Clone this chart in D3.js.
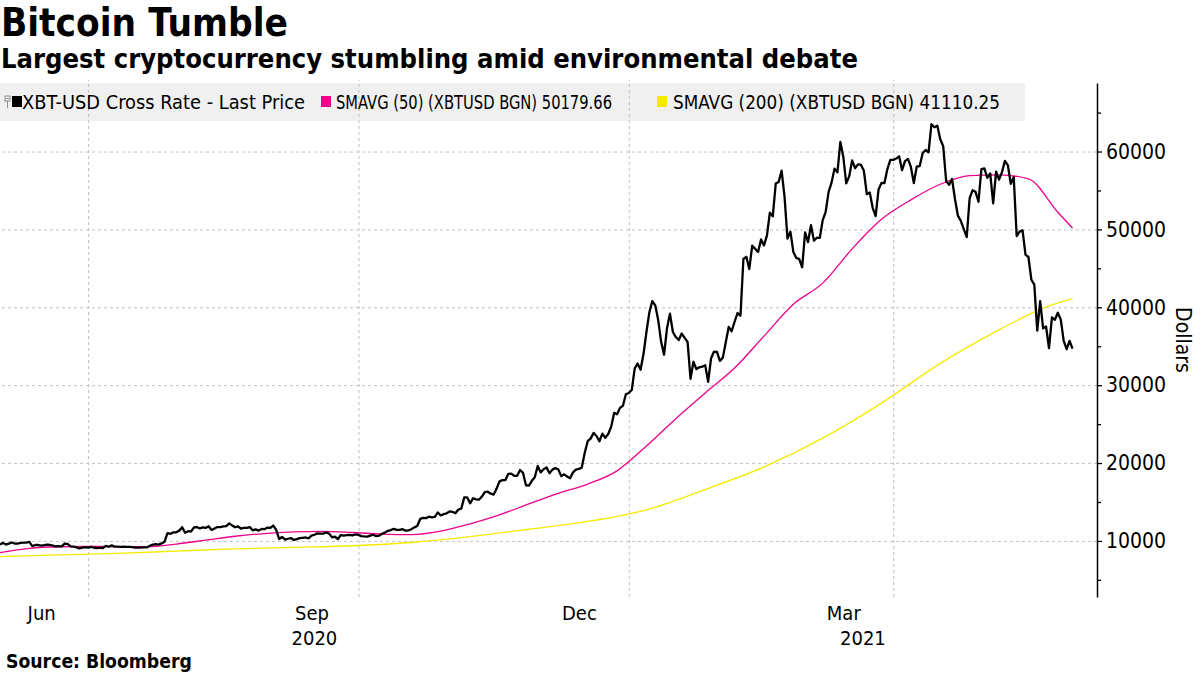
<!DOCTYPE html>
<html><head><meta charset="utf-8">
<script src="https://cdn.jsdelivr.net/npm/d3@7"></script>
<style>
html,body{margin:0;padding:0;background:#fff;}
svg{display:block;}
text{font-family:"DejaVu Sans Condensed","DejaVu Sans",sans-serif;font-stretch:condensed;fill:#000;}
</style></head><body>
<svg id="chart" width="1200" height="675"></svg>
<script>
// ---------------- DATA ----------------
const titleText = "Bitcoin Tumble";
const subtitleText = "Largest cryptocurrency stumbling amid environmental debate";
const sourceText = "Source: Bloomberg";
const yAxisTitle = "Dollars";
const seriesNames = ["XBT-USD Cross Rate - Last Price", "SMAVG (50) (XBTUSD BGN) 50179.66", "SMAVG (200) (XBTUSD BGN) 41110.25"];
const seriesColors = ["#000000", "#ec008c", "#f4ea00"];

const startDate = "2020-06-01";   // first daily observation
const endDate = "2021-06-01";     // last daily observation

// Daily last price (USD), Jun 1 2020 .. Jun 1 2021
const price = [
  // Jun 2020
  9550, 9750, 9529, 9656, 9800, 9665, 9653, 9758, 9771, 9795, 9870, 9321, 9480, 9475, 9386, 9454, 9538, 9480, 9411, 9288, 9332, 9303, 9648, 9629, 9313, 9264, 9162, 9046, 9143, 9190,
  // Jul 2020
  9137, 9228, 9123, 9087, 9133, 9073, 9375, 9252, 9428, 9277, 9278, 9240, 9276, 9243, 9243, 9192, 9132, 9151, 9159, 9185, 9164, 9374, 9525, 9581, 9536, 9677, 9905, 10990, 10912, 11100, 11111,
  // Aug 2020
  11323, 11759, 11053, 11246, 11205, 11747, 11779, 11601, 11754, 11675, 11878, 11410, 11584, 11784, 11768, 11865, 11892, 12254, 11991, 11758, 11878, 11592, 11681, 11664, 11774, 11366, 11488, 11323, 11542, 11507, 11711,
  // Sep 2020
  11680, 11970, 11414, 10245, 10511, 10169, 10280, 10370, 10131, 10242, 10364, 10400, 10443, 10323, 10680, 10796, 10974, 10948, 10944, 11094, 10938, 10462, 10538, 10246, 10760, 10692, 10750, 10776, 10709, 10844,
  // Oct 2020
  10784, 10619, 10575, 10550, 10669, 10793, 10604, 10668, 10915, 11064, 11296, 11384, 11555, 11426, 11429, 11505, 11319, 11360, 11495, 11742, 11916, 12823, 12965, 12931, 13108, 13031, 13075, 13654, 13271, 13437, 13546,
  // Nov 2020
  13781, 13737, 13550, 14028, 14156, 15590, 15580, 14828, 15479, 15332, 15291, 15701, 16277, 16317, 16068, 15955, 16716, 17645, 17804, 17817, 18621, 18642, 18370, 18364, 19107, 18732, 17150, 17108, 17717, 18177,
  // Dec 2020
  19625, 18802, 19201, 19445, 18699, 19154, 19345, 19191, 18321, 18553, 18264, 18058, 18803, 19142, 19246, 19417, 21310, 22805, 23137, 23869, 23477, 22803, 23783, 23241, 23736, 24664, 26437, 26272, 27084, 27362, 28841,
  // Jan 2021
  29002, 29374, 32127, 32782, 31971, 33992, 36824, 39371, 40797, 40254, 38357, 35566, 33922, 37316, 39187, 36825, 36178, 35792, 36630, 36069, 35548, 30825, 33005, 32067, 32289, 32366, 32569, 30432, 33467, 34316, 34269,
  // Feb 2021
  33115, 33537, 35510, 37472, 36927, 38144, 39267, 38904, 46196, 46482, 44919, 47910, 47504, 47106, 48717, 47945, 49200, 52149, 51679, 55888, 56099, 57540, 54207, 48825, 49705, 47093, 46339, 46188,
  // Mar 2021
  45137, 49631, 48378, 50538, 48561, 48927, 48912, 51206, 52246, 54824, 56008, 57805, 57332, 61243, 59302, 55907, 56804, 58870, 57858, 58346, 58313, 57523, 54529, 54738, 52774, 51704, 55137, 55974, 55947, 57750, 58918,
  // Apr 2021
  58918, 59095, 59384, 57604, 58759, 59058, 58020, 55950, 58077, 58142, 59770, 60205, 59894, 63504, 63110, 63314, 61572, 60683, 56216, 55724, 56474, 53906, 51763, 51094, 50050, 49004, 54022, 55034, 54825, 53556,
  // May 2021
  57750, 57828, 56632, 57200, 53333, 57424, 56397, 57357, 58804, 58233, 55860, 56705, 49150, 49716, 49880, 46760, 46457, 43537, 42910, 37002, 40782, 37304, 37536, 34770, 38706, 38402, 39294, 38437, 35697, 34616, 35678,
  // Jun 1 2021
  34700
];

// 50-day simple moving average, read at day offsets from startDate
const sma50Days = [0, 10, 20, 30, 40, 50, 60, 70, 80, 90, 100, 110, 120, 130, 140, 150, 160, 170, 180, 190, 200, 210, 220, 230, 240, 250, 260, 270, 280, 290, 300, 310, 320, 330, 340, 350, 360, 365];
const sma50 = [8500, 9050, 9250, 9290, 9280, 9270, 9600, 10100, 10600, 10950, 11150, 11220, 11080, 10880, 10800, 11250, 12200, 13350, 14750, 16100, 17300, 19000, 22200, 25700, 29000, 32200, 36300, 40400, 43100, 47500, 51300, 53800, 55800, 56900, 57000, 56500, 52200, 50180];

// 200-day simple moving average
const sma200Days = [0, 20, 40, 60, 80, 100, 120, 140, 160, 180, 200, 220, 240, 260, 280, 300, 320, 340, 355, 365];
const sma200 = [7990, 8200, 8400, 8700, 8980, 9170, 9380, 9800, 10550, 11500, 12500, 14000, 16600, 19500, 23200, 27700, 32800, 37100, 39900, 41110];

const yTicks = [10000, 20000, 30000, 40000, 50000, 60000];
const yMinorTicks = [5000, 15000, 25000, 35000, 45000, 55000, 65000];
const yDomain = [2800, 68800];
const gridDates = ["2020-07-01", "2020-10-01", "2021-01-01", "2021-04-01"];
const monthLabels = ["Jun", "Sep", "Dec", "Mar"];
const monthLabelDates = ["2020-06-15", "2020-09-15", "2020-12-15", "2021-03-15"];
const yearLabels = ["2020", "2021"];

// ---------------- CHART ----------------
const svg = d3.select("#chart");
const parse = d3.timeParse("%Y-%m-%d");
const start = parse(startDate);
const dates = price.map((_, i) => d3.timeDay.offset(start, i));

const plotLeft = 0, plotRight = 1072.5, axisX = 1097, plotTop = 83, plotBottom = 597;
const x = d3.scaleTime().domain([start, parse(endDate)]).range([plotLeft, plotRight]);
const y = d3.scaleLinear().domain(yDomain).range([plotBottom, plotTop]);

function fit(sel, target) {
  const w = sel.node().getComputedTextLength();
  const fs = parseFloat(sel.attr("font-size"));
  sel.attr("font-size", (fs * target / w).toFixed(2));
}

// Titles
fit(svg.append("text").attr("x", 1).attr("y", 36).attr("font-size", 36).attr("font-weight", "bold").text(titleText), 287);
fit(svg.append("text").attr("x", 1).attr("y", 68).attr("font-size", 24).attr("font-weight", "bold").text(subtitleText), 857);

// Legend background
svg.append("rect").attr("x", 0).attr("y", 83).attr("width", 1025).attr("height", 38).attr("fill", "#f0f0f0");

// Gridlines
const grid = svg.append("g");
grid.append("g").attr("transform", `translate(0,${plotBottom})`)
  .call(d3.axisBottom(x).tickValues(gridDates.map(parse)).tickSize(-(plotBottom - plotTop + 3)).tickFormat(""))
  .call(g => g.select(".domain").remove())
  .call(g => g.selectAll("line").attr("stroke", "#bdbdbd").attr("stroke-width", 1).attr("stroke-dasharray", "3,3"));
grid.append("g").attr("transform", `translate(${axisX},0)`)
  .call(d3.axisLeft(y).tickValues(yTicks).tickSize(axisX - plotLeft).tickFormat(""))
  .call(g => g.select(".domain").remove())
  .call(g => g.selectAll("line").attr("stroke", "#c4c4c4").attr("stroke-width", 1).attr("stroke-dasharray", "3,3"));

// Legend
const legendX = [22, 336, 673];
const legendW = [283, 276, 327];
const swatchX = [12, 321, 657];
svg.append("rect").attr("x", 5).attr("y", 96).attr("width", 5).attr("height", 5).attr("fill", "none").attr("stroke", "#777").attr("stroke-width", 0.8);
svg.append("line").attr("x1", 6).attr("x2", 9).attr("y1", 98.5).attr("y2", 98.5).attr("stroke", "#777").attr("stroke-width", 0.8);
svg.append("line").attr("x1", 7.5).attr("x2", 7.5).attr("y1", 101).attr("y2", 108).attr("stroke", "#777").attr("stroke-width", 0.8);
seriesNames.forEach((name, i) => {
  svg.append("rect").attr("x", swatchX[i]).attr("y", 96).attr("width", 10).attr("height", 11).attr("fill", seriesColors[i]);
  svg.append("text").attr("x", legendX[i]).attr("y", 109).attr("font-size", 19)
    .attr("textLength", legendW[i]).attr("lengthAdjust", "spacingAndGlyphs").text(name);
});

// Lines
const smaLine = d3.line().curve(d3.curveMonotoneX).x(d => x(d3.timeDay.offset(start, d[0]))).y(d => y(d[1]));
svg.append("path").datum(sma200Days.map((d, i) => [d, sma200[i]]))
  .attr("d", smaLine).attr("fill", "none").attr("stroke", seriesColors[2]).attr("stroke-width", 1.3);
svg.append("path").datum(sma50Days.map((d, i) => [d, sma50[i]]))
  .attr("d", smaLine).attr("fill", "none").attr("stroke", seriesColors[1]).attr("stroke-width", 1.3);
svg.append("path").datum(price)
  .attr("d", d3.line().x((d, i) => x(dates[i])).y(d => y(d)))
  .attr("fill", "none").attr("stroke", seriesColors[0]).attr("stroke-width", 2.3).attr("stroke-linejoin", "round");

// Y axis (right)
const yAxisG = svg.append("g").attr("transform", `translate(${axisX},0)`);
yAxisG.call(d3.axisRight(y).tickValues(yTicks).tickSize(5).tickSizeOuter(0).tickPadding(4).tickFormat(d3.format("d")))
  .call(g => g.select(".domain").attr("stroke", "#000").attr("stroke-width", 1.5))
  .call(g => g.selectAll(".tick line").attr("stroke", "#000").attr("stroke-width", 1.3))
  .call(g => g.selectAll(".tick text").attr("font-size", 21).attr("font-family", null).attr("fill", "#000"));
yAxisG.append("g")
  .call(d3.axisRight(y).tickValues(yMinorTicks).tickSize(4).tickFormat(""))
  .call(g => g.select(".domain").remove())
  .call(g => g.selectAll(".tick line").attr("stroke", "#000").attr("stroke-width", 1.3));
svg.append("text").attr("transform", "translate(1176,340) rotate(90)").attr("text-anchor", "middle")
  .attr("font-size", 21).text(yAxisTitle);

// X axis labels
const xAxisG = svg.append("g").attr("transform", `translate(0,${plotBottom})`);
xAxisG.call(d3.axisBottom(x).tickValues(monthLabelDates.map(parse)).tickSize(0).tickPadding(9).tickFormat((d, i) => monthLabels[i]))
  .call(g => g.select(".domain").remove())
  .call(g => g.selectAll(".tick text").attr("font-size", 20).attr("font-family", null).attr("fill", "#000"));
yearLabels.forEach(yr => {
  const a = Math.max(plotLeft, x(parse(yr + "-01-01")));
  const b = Math.min(axisX, x(parse((+yr + 1) + "-01-01")));
  svg.append("text").attr("x", (a + b) / 2).attr("y", 645).attr("text-anchor", "middle").attr("font-size", 20).text(yr);
});

// Source
fit(svg.append("text").attr("x", 6).attr("y", 668).attr("font-size", 16).attr("font-weight", "bold").text(sourceText), 186);
</script>
</body></html>
